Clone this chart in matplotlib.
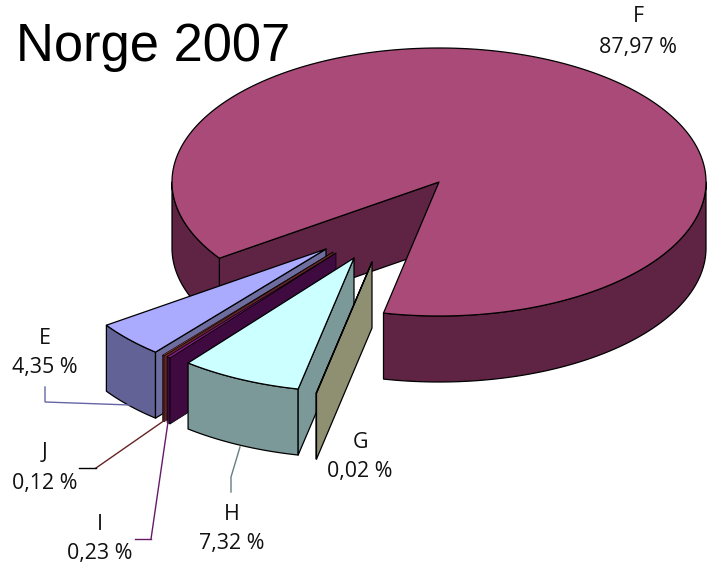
import numpy as np
import matplotlib
matplotlib.use("Agg")
import matplotlib.pyplot as plt
from matplotlib.patches import Polygon

# --- data -------------------------------------------------------------
categories = ["F", "G", "H", "I", "J", "E"]
shares = [87.97, 0.02, 7.32, 0.23, 0.12, 4.35]
share_labels = ["87,97 %", "0,02 %", "7,32 %", "0,23 %", "0,12 %", "4,35 %"]
title_text = "Norge 2007"

# --- styles -----------------------------------------------------------
TOP = dict(F="#A94A78", G="#CCCC99", H="#CCFFFF", I="#7F1A80", J="#A04040", E="#AAAAFF")
RIM = dict(F="#5F2444", G="#7C7C5E", H="#7C9999", I="#3F0A40", J="#632626", E="#626296")
FACE = dict(F="#5F2444", G="#8F8F72", H="#7C9999", I="#3F0A40", J="#632626", E="#6D6D9F")
LINE = dict(H="#667F7F", I="#661A66", J="#662222", E="#6666A6")
EDGE_W = dict(F=0.9, G=0.9, H=0.9, I=0.5, J=0.4, E=0.9)

# --- projection of the tilted pie -------------------------------------
RX, RY, DEPTH = 267.0, 134.0, 66.0
CENTER = (439.0, 182.0)
APEX = dict(F=CENTER, G=(372, 262), H=(354, 258), I=(336, 253), J=(333, 252), E=(326, 249))
START_DEG = 258.0


def rim_xy(apex, deg):
    t = np.radians(deg)
    return apex[0] + RX * np.cos(t), apex[1] - RY * np.sin(t)


def arc(apex, a0, a1):
    n = max(2, int(abs(a1 - a0) * 2) + 2)
    t = np.linspace(a0, a1, n)
    x, y = rim_xy(apex, t)
    return np.column_stack([x, y])


def poly(ax, pts, fc, lw):
    ax.add_patch(Polygon(pts, closed=True, facecolor=fc, edgecolor="black",
                         linewidth=lw, joinstyle="round"))


def side_wall(ax, apex, a0, a1, fc, lw):
    """Outer wall, only where it faces the viewer (180..360 deg, mod 360)."""
    for k in (0, 360):
        lo, hi = max(a0, 180 + k), min(a1, 360 + k)
        if hi > lo:
            top = arc(apex, lo, hi)
            bot = top[::-1] + [0, DEPTH]
            poly(ax, np.vstack([top, bot]), fc, lw)


fig = plt.figure(figsize=(7.08, 5.64), dpi=100)
ax = fig.add_axes([0, 0, 1, 1])
ax.set_xlim(0, 708)
ax.set_ylim(564, 0)
ax.axis("off")

# angular spans (clockwise from START_DEG for the exploded pieces)
total = sum(shares)
spans = {}
hi = START_DEG
for name, val in zip(categories[1:], shares[1:]):
    lo = hi - val / total * 360
    spans[name] = (lo, hi)
    hi = lo
spans["F"] = (START_DEG, START_DEG + shares[0] / total * 360)

# main slice
a0, a1 = spans["F"]
c = np.array(CENTER)
e = np.array(rim_xy(CENTER, a1))
poly(ax, [c, e, e + [0, DEPTH], c + [0, DEPTH]], FACE["F"], EDGE_W["F"])
side_wall(ax, CENTER, a0, a1, RIM["F"], EDGE_W["F"])
poly(ax, np.vstack([[c], arc(CENTER, a0, a1)]), TOP["F"], EDGE_W["F"])

# exploded slices, back to front
for name in ["E", "J", "I", "H", "G"]:
    lo, hi = spans[name]
    p = np.array(APEX[name], dtype=float)
    q = np.array(rim_xy(p, hi))
    side_wall(ax, p, lo, hi, RIM[name], EDGE_W[name])
    poly(ax, [p, q, q + [0, DEPTH], p + [0, DEPTH]], FACE[name], EDGE_W[name])
    poly(ax, np.vstack([[p], arc(p, lo, hi)]), TOP[name], EDGE_W[name])

# leader lines
leaders = dict(
    E=[(45, 387), (45, 402), (130, 405)],
    J=[(96, 468), (165, 420)],
    I=[(151, 539), (168, 422)],
    H=[(231, 492), (231, 477), (240, 447)],
)
for name, pts in leaders.items():
    xs, ys = zip(*pts)
    ax.plot(xs, ys, color=LINE[name], lw=1.0, solid_joinstyle="miter")
ax.plot([79, 96], [468, 468], color="black", lw=1.0)
ax.plot([135, 151], [539, 539], color=LINE["I"], lw=1.0)

# labels
label_pos = dict(F=(638, 17, 48), G=(360, 442, 472), H=(232, 514, 544),
                 I=(100, 524, 554), J=(45, 453, 484), E=(45, 338, 368))
lab_font = dict(family="Open Sans", fontsize=15.4, color="#111111",
                ha="center", va="center")
for name, txt in zip(categories, share_labels):
    x, y1, y2 = label_pos[name]
    ax.text(x, y1, name, **lab_font)
    ax.text(x, y2, txt, **lab_font)

ax.text(16, 61, title_text, family="Liberation Sans", fontsize=37.8,
        color="black", ha="left", va="baseline")

fig.savefig("out.png", dpi=100, facecolor="white")
